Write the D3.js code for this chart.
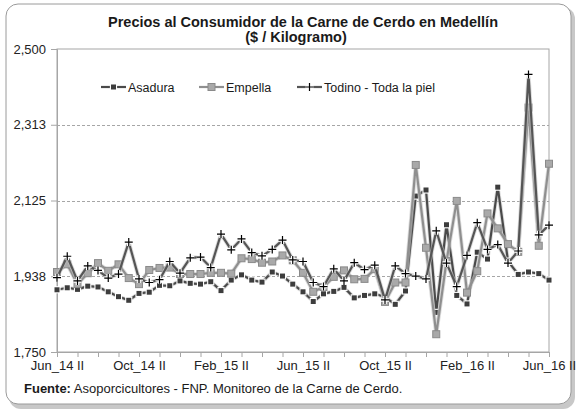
<!DOCTYPE html>
<html>
<head>
<meta charset="utf-8">
<script src="https://cdn.jsdelivr.net/npm/d3@7"></script>
<style>
body { margin: 0; background: #fff; }
svg text { font-family: "Liberation Sans", Arial, sans-serif; }
</style>
</head>
<body>
<script>
var width = 579,
    height = 414;

// quincenas, Jun_14 II .. Jun_16 II
var categorias = [
  "Jun_14 II", "Jul_14 I", "Jul_14 II", "Ago_14 I", "Ago_14 II", "Sep_14 I", "Sep_14 II", "Oct_14 I",
  "Oct_14 II", "Nov_14 I", "Nov_14 II", "Dic_14 I", "Dic_14 II", "Ene_15 I", "Ene_15 II", "Feb_15 I",
  "Feb_15 II", "Mar_15 I", "Mar_15 II", "Abr_15 I", "Abr_15 II", "May_15 I", "May_15 II", "Jun_15 I",
  "Jun_15 II", "Jul_15 I", "Jul_15 II", "Ago_15 I", "Ago_15 II", "Sep_15 I", "Sep_15 II", "Oct_15 I",
  "Oct_15 II", "Nov_15 I", "Nov_15 II", "Dic_15 I", "Dic_15 II", "Ene_16 I", "Ene_16 II", "Feb_16 I",
  "Feb_16 II", "Mar_16 I", "Mar_16 II", "Abr_16 I", "Abr_16 II", "May_16 I", "May_16 II", "Jun_16 I",
  "Jun_16 II"
];

var asadura = [1904, 1909, 1905, 1913, 1911, 1899, 1887, 1878, 1895, 1898, 1915, 1914, 1926, 1920, 1918, 1924,
  1902, 1928, 1941, 1928, 1923, 1948, 1938, 1918, 1899, 1875, 1894, 1900, 1910, 1884, 1890, 1894,
  1886, 1868, 1901, 2136, 2151, 1848, 2065, 1890, 1869, 1997, 1980, 2158, 1975, 1942, 1948, 1944, 1928];

var empella = [1948, 1967, 1918, 1945, 1970, 1951, 1967, 1933, 1918, 1953, 1958, 1959, 1943, 1943, 1943, 1946,
  1946, 1944, 1982, 1980, 1971, 1974, 1989, 1977, 1946, 1899, 1911, 1936, 1952, 1930, 1931, 1955,
  1874, 1922, 1922, 2213, 2008, 1794, 1975, 2124, 1897, 1950, 2093, 2056, 2017, 1998, 2355, 2013, 2216];

var todino = [1934, 1987, 1926, 1963, 1952, 1933, 1943, 2022, 1931, 1922, 1929, 1974, 1945, 1983, 1985, 1959,
  2042, 2003, 2030, 1996, 1988, 2004, 2027, 1978, 1974, 1922, 1912, 1956, 1926, 1971, 1954, 1965,
  1879, 1963, 1944, 1938, 1931, 2050, 1970, 1912, 1989, 2070, 2004, 2016, 1970, 2000, 2437, 2040, 2064];

var yTicks = [1750, 1937.5, 2125, 2312.5, 2500];

var series = [
  {name: "Asadura", values: asadura, line: "#4a4a4a", marker: "square"},
  {name: "Empella", values: empella, line: "#8f8f8f", marker: "bigsquare"},
  {name: "Todino - Toda la piel", values: todino, line: "#555555", marker: "plus"}
];

var svg = d3.select("body").append("svg")
  .attr("width", width)
  .attr("height", height);

// marco con sombra
svg.append("rect").attr("x", 9).attr("y", 7).attr("width", 566).attr("height", 402)
  .attr("rx", 12).attr("fill", "#c8c8c8");
svg.append("rect").attr("x", 6).attr("y", 4).attr("width", 565).attr("height", 400)
  .attr("rx", 12).attr("fill", "#fff").attr("stroke", "#9a9a9a").attr("stroke-width", 1);

svg.append("text").attr("x", 303).attr("y", 27).attr("text-anchor", "middle")
  .style("font-size", "14.5px").style("font-weight", "bold").attr("fill", "#1a1a1a")
  .text("Precios al Consumidor de la Carne de Cerdo en Medellín");
svg.append("text").attr("x", 296).attr("y", 42).attr("text-anchor", "middle")
  .style("font-size", "14.5px").style("font-weight", "bold").attr("fill", "#1a1a1a")
  .text("($ / Kilogramo)");

var x = d3.scalePoint().domain(categorias).range([57, 549]);
var y = d3.scaleLinear().domain([1750, 2500]).range([352, 49]);

// caja del area de trazado
svg.append("rect").attr("x", 57).attr("y", 49).attr("width", 492).attr("height", 303)
  .attr("fill", "none").attr("stroke", "#a6a6a6").attr("stroke-width", 1);

// lineas de division
svg.append("g").selectAll("line").data(yTicks.slice(1, 4)).enter().append("line")
  .attr("x1", 57).attr("x2", 549)
  .attr("y1", function(d) { return Math.round(y(d)) + 0.5; })
  .attr("y2", function(d) { return Math.round(y(d)) + 0.5; })
  .attr("stroke", "#a6a6a6").attr("stroke-dasharray", "3,2");

var yAxis = svg.append("g").attr("transform", "translate(57,0)")
  .call(d3.axisLeft(y).tickValues(yTicks).tickFormat(d3.format(",.0f")).tickSize(6).tickPadding(5));
yAxis.selectAll("text").style("font-size", "13px").attr("fill", "#222");

var xAxis = svg.append("g").attr("transform", "translate(0,352)")
  .call(d3.axisBottom(x)
    .tickValues(categorias.filter(function(d, i) { return i % 2 == 0; }))
    .tickFormat(function(d) { return categorias.indexOf(d) % 8 == 0 ? d : ""; })
    .tickSize(5).tickPadding(4));
xAxis.selectAll("text").style("font-size", "13px").attr("fill", "#222");

[yAxis, xAxis].forEach(function(a) {
  a.select(".domain").attr("stroke", "#a6a6a6");
  a.selectAll(".tick line").attr("stroke", "#a6a6a6");
});

var line = d3.line()
  .x(function(d, i) { return x(categorias[i]); })
  .y(function(d) { return y(d); });

function drawMarker(g, kind, px, py) {
  if (kind == "square") {
    g.append("rect").attr("x", px - 2.5).attr("y", py - 2.5).attr("width", 5).attr("height", 5)
      .attr("fill", "#3d3d3d").attr("stroke", "#fff").attr("stroke-width", 2.2);
    g.append("rect").attr("x", px - 2.5).attr("y", py - 2.5).attr("width", 5).attr("height", 5)
      .attr("fill", "#3d3d3d");
  } else if (kind == "bigsquare") {
    g.append("rect").attr("x", px - 3.5).attr("y", py - 3.5).attr("width", 7).attr("height", 7)
      .attr("fill", "#a9a9a9").attr("stroke", "#8a8a8a").attr("stroke-width", 1);
  } else {
    var p = "M" + (px - 4) + "," + py + "H" + (px + 4) + "M" + px + "," + (py - 4) + "V" + (py + 4);
    g.append("path").attr("d", p).attr("stroke", "#fff").attr("stroke-width", 3.5);
    g.append("path").attr("d", p).attr("stroke", "#000").attr("stroke-width", 1.2);
  }
}

series.forEach(function(s) {
  var g = svg.append("g");
  g.append("path").datum(s.values).attr("d", line)
    .attr("fill", "none").attr("stroke", "#c4c4c4").attr("stroke-width", 4).attr("stroke-opacity", 0.6)
    .attr("stroke-linejoin", "round");
  g.append("path").datum(s.values).attr("d", line)
    .attr("fill", "none").attr("stroke", s.line).attr("stroke-width", 2.2)
    .attr("stroke-linejoin", "round");
  s.values.forEach(function(v, i) {
    drawMarker(g, s.marker, x(categorias[i]), y(v));
  });
});

// leyenda
var legendX = [101, 199, 297];
series.forEach(function(s, i) {
  var g = svg.append("g").attr("transform", "translate(" + legendX[i] + ",87)");
  g.append("line").attr("x1", 0).attr("x2", 25).attr("y1", 0).attr("y2", 0)
    .attr("stroke", s.line).attr("stroke-width", 2.2);
  drawMarker(g, s.marker, 12.5, 0);
  g.append("text").attr("x", 27).attr("y", 4.5).style("font-size", "12.5px").attr("fill", "#1a1a1a")
    .text(s.name);
});

var fuente = svg.append("text").attr("x", 24).attr("y", 393).style("font-size", "13px").attr("fill", "#1a1a1a");
fuente.append("tspan").style("font-weight", "bold").text("Fuente:");
fuente.append("tspan").text(" Asoporcicultores - FNP. Monitoreo de la Carne de Cerdo.");
</script>
</body>
</html>
